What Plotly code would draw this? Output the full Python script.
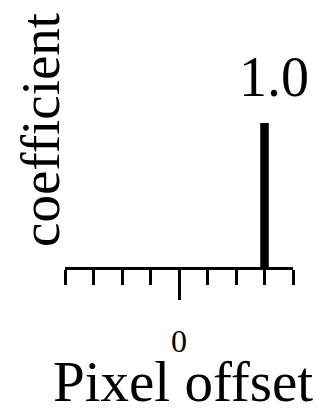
import plotly.graph_objects as go

# impulse kernel: coefficient per pixel offset
offsets = [-4, -3, -2, -1, 0, 1, 2, 3, 4]
coefficients = [0, 0, 0, 0, 0, 0, 0, 1.0, 0]
tick_values = [0]
tick_labels = ["0"]

serif = "Liberation Serif, Times New Roman, serif"

fig = go.Figure()
fig.add_trace(go.Bar(x=offsets, y=coefficients, width=0.3,
                     marker=dict(color="black", line_width=0)))

# value label over the non-zero bar
for x, y in zip(offsets, coefficients):
    if y:
        fig.add_annotation(x=x, y=y, text=f"{y:.1f}", showarrow=False,
                           yanchor="bottom", xshift=9, yshift=13,
                           font=dict(family=serif, size=56, color="black"))

# axis titles placed by hand (the x one sits lower than plotly allows)
fig.add_annotation(xref="paper", yref="paper", x=-0.11, y=0.634,
                   text="coefficient", textangle=-90, showarrow=False,
                   xanchor="center", yanchor="middle",
                   font=dict(family=serif, size=55, color="black"))
fig.add_annotation(xref="paper", yref="paper", x=0.5, y=0,
                   text="Pixel offset", showarrow=False,
                   xanchor="center", yanchor="bottom", xshift=4, yshift=-148,
                   font=dict(family=serif, size=57, color="black"))

# page body adds 8px, so the figure is 8px smaller than the window
fig.update_layout(
    width=317, height=404,
    margin=dict(l=57, r=32, t=43, b=145),
    paper_bgcolor="white", plot_bgcolor="white",
    showlegend=False,
    xaxis=dict(range=[-4, 4], showline=True, linecolor="black", linewidth=3,
               showgrid=False, zeroline=False,
               tickvals=tick_values, ticktext=tick_labels,
               ticks="outside", ticklen=30, tickwidth=3, tickcolor="black",
               ticklabelstandoff=14,
               tickfont=dict(family=serif, size=32, color="black"),
               minor=dict(dtick=1, tick0=0, ticks="outside", ticklen=15,
                          tickwidth=3, tickcolor="black", showgrid=False),
               automargin=False, fixedrange=True),
    yaxis=dict(range=[0, 1.5], visible=False, automargin=False),
)

fig.write_html("out.html")
